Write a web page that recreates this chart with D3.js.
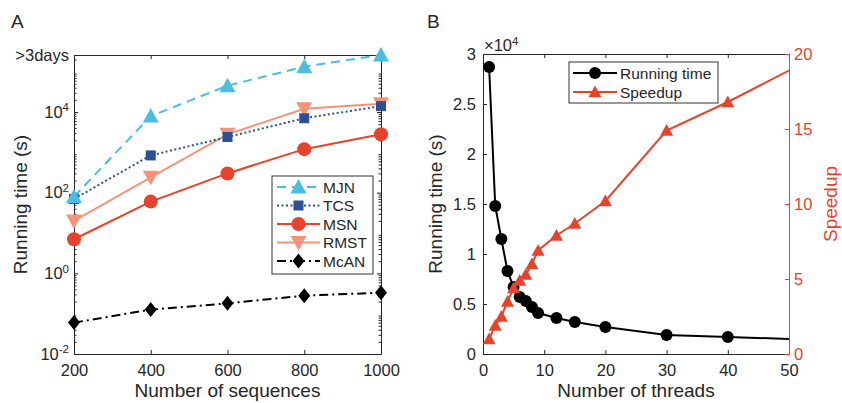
<!DOCTYPE html>
<html>
<head>
<meta charset="utf-8">
<script src="https://d3js.org/d3.v7.min.js"></script>
<style>
    body { margin: 0; background: #ffffff; }
    svg text { font-family: "Liberation Sans", Arial, sans-serif; fill: #262626; }
    .tick text { font-size: 16.5px; }
    .axis-label { font-size: 19px; }
    .legend-text { font-size: 15.5px; }
    .panel-letter { font-size: 19px; }
</style>
</head>
<body>
<script>
// ---- panel A data ----
const sequences = [200, 400, 600, 800, 1000];
const methodNames = ["MJN", "TCS", "MSN", "RMST", "McAN"];
const mjnTime = [80, 7900, 45000, 133000, 259200];
const tcsTime = [70, 840, 2400, 7000, 14000];
const msnTime = [7, 60, 300, 1200, 2800];
const rmstTime = [20, 240, 2800, 12000, 16000];
const mcanTime = [0.06, 0.126, 0.18, 0.28, 0.33];
const yTicksA = [1e-2, 1, 1e2, 1e4, 259200];

// ---- panel B data ----
const threads = [1, 2, 3, 4, 5, 6, 7, 8, 9, 12, 15, 20, 30, 40, 60];
const runTime = [28700, 14800, 11500, 8300, 6700, 5700, 5300, 4700, 4100, 3600, 3200, 2700, 1900, 1700, 1300];
const speedup = [1.0, 1.9, 2.5, 3.5, 4.4, 4.9, 5.3, 6.0, 6.9, 7.9, 8.7, 10.2, 14.9, 16.8, 21.0];

const W = 842, H = 403;
const AXIS_COLOR = "#262626";
const RED = "#e5432d";

const svg = d3.select("body").append("svg")
    .attr("width", W).attr("height", H);

const defs = svg.append("defs");

function marker(g, shape, x, y, size, color) {
    if (shape === "up" || shape === "down") {
        const h = size * 0.9, w = size / 2;
        const s = shape === "up" ? 1 : -1;
        g.append("path")
            .attr("d", `M${x},${y - s * h * 0.55}L${x + w},${y + s * h * 0.45}L${x - w},${y + s * h * 0.45}Z`)
            .attr("fill", color);
    } else if (shape === "square") {
        g.append("rect").attr("x", x - size / 2).attr("y", y - size / 2)
            .attr("width", size).attr("height", size).attr("fill", color);
    } else if (shape === "circle") {
        g.append("circle").attr("cx", x).attr("cy", y).attr("r", size / 2).attr("fill", color);
    } else if (shape === "diamond") {
        const r = size / 2;
        g.append("path").attr("d", `M${x},${y - r}L${x + r * 0.8},${y}L${x},${y + r}L${x - r * 0.8},${y}Z`)
            .attr("fill", color);
    }
}

function styleAxis(g, color) {
    g.select(".domain").attr("stroke", color || AXIS_COLOR).attr("stroke-width", 1);
    g.selectAll(".tick line").attr("stroke", color || AXIS_COLOR).attr("stroke-width", 1);
    g.selectAll(".tick text").style("fill", color || AXIS_COLOR)
        .attr("font-family", null).attr("font-size", null);
}

// ================= Panel A =================
const A = { left: 74, right: 381, top: 55, bottom: 354 };
const xA = d3.scaleLinear().domain([200, 1000]).range([A.left, A.right]);
const yA = d3.scaleLog().domain([1e-2, 259200]).range([A.bottom, A.top]);

const gA = svg.append("g");

// minor log ticks
const minorA = [];
for (let e = -2; e <= 5; e++) {
    for (let m = 2; m <= 9; m++) {
        const v = m * Math.pow(10, e);
        if (v < 259200) minorA.push(v);
    }
}
gA.append("g").attr("transform", `translate(${A.left},0)`)
    .call(d3.axisRight(yA).tickValues(minorA).tickSize(2.5).tickFormat(""))
    .call(g => { g.select(".domain").remove(); g.selectAll("line").attr("stroke", AXIS_COLOR); });
gA.append("g").attr("transform", `translate(${A.right},0)`)
    .call(d3.axisLeft(yA).tickValues(minorA).tickSize(2.5).tickFormat(""))
    .call(g => { g.select(".domain").remove(); g.selectAll("line").attr("stroke", AXIS_COLOR); });

// major axes
gA.append("g").attr("transform", `translate(0,${A.bottom})`)
    .call(d3.axisBottom(xA).tickValues(sequences).tickSizeInner(-4).tickSizeOuter(0).tickPadding(10)
        .tickFormat(d3.format("d")))
    .call(g => styleAxis(g));
gA.append("g").attr("transform", `translate(0,${A.top})`)
    .call(d3.axisTop(xA).tickValues(sequences).tickSizeInner(-4).tickSizeOuter(0).tickFormat(""))
    .call(g => styleAxis(g));
gA.append("g").attr("transform", `translate(${A.left},0)`)
    .call(d3.axisLeft(yA).tickValues(yTicksA).tickSizeInner(-4).tickSizeOuter(0).tickPadding(5).tickFormat(""))
    .call(g => styleAxis(g))
    .call(g => g.selectAll(".tick text").each(function(d) {
        const t = d3.select(this);
        if (d === 259200) {
            t.text(">3days");
        } else {
            const e = Math.round(Math.log10(d));
            t.append("tspan").text("10");
            t.append("tspan").attr("dy", "-0.55em").style("font-size", "11.5px").text(e);
        }
    }));
gA.append("g").attr("transform", `translate(${A.right},0)`)
    .call(d3.axisRight(yA).tickValues(yTicksA).tickSizeInner(-4).tickSizeOuter(0).tickFormat(""))
    .call(g => styleAxis(g));

const seriesA = [
    { name: "MJN", values: mjnTime, color: "#4cbde0", dash: "9,6", shape: "up", size: 16 },
    { name: "TCS", values: tcsTime, color: "#2f4f95", dash: "2,2.5", shape: "square", size: 10 },
    { name: "MSN", values: msnTime, color: "#e5432d", dash: null, shape: "circle", size: 14 },
    { name: "RMST", values: rmstTime, color: "#f4937a", dash: null, shape: "down", size: 16 },
    { name: "McAN", values: mcanTime, color: "#000000", dash: "9,4,2,4", shape: "diamond", size: 15 }
];
const drawOrderA = [4, 3, 2, 1, 0];
const lineA = d3.line().x((d, i) => xA(sequences[i])).y(d => yA(d));
drawOrderA.forEach(k => {
    const s = seriesA[k];
    gA.append("path").datum(s.values)
        .attr("d", lineA)
        .attr("fill", "none").attr("stroke", s.color).attr("stroke-width", 2)
        .attr("stroke-dasharray", s.dash);
    s.values.forEach((v, i) => marker(gA, s.shape, xA(sequences[i]), yA(v), s.size, s.color));
});

// legend A
const legA = gA.append("g");
legA.append("rect").attr("x", 272).attr("y", 176).attr("width", 101).attr("height", 98)
    .attr("fill", "#ffffff").attr("stroke", "#333333").attr("stroke-width", 1);
seriesA.forEach((s, i) => {
    const y = 187 + i * 18.5;
    legA.append("line").attr("x1", 277).attr("x2", 320).attr("y1", y).attr("y2", y)
        .attr("stroke", s.color).attr("stroke-width", 2).attr("stroke-dasharray", s.dash);
    marker(legA, s.shape, 298.5, y, s.size, s.color);
    legA.append("text").attr("class", "legend-text").attr("x", 323).attr("y", y)
        .attr("dy", "0.36em").text(methodNames[i]);
});

gA.append("text").attr("class", "axis-label").attr("text-anchor", "middle")
    .attr("x", (A.left + A.right) / 2).attr("y", 397).text("Number of sequences");
gA.append("text").attr("class", "axis-label").attr("text-anchor", "middle")
    .attr("transform", `translate(27,${(A.top + A.bottom) / 2}) rotate(-90)`).text("Running time (s)");
gA.append("text").attr("class", "panel-letter").attr("x", 11).attr("y", 28).text("A");

// ================= Panel B =================
const B = { left: 483, right: 789, top: 54, bottom: 354 };
const xB = d3.scaleLinear().domain([0, 50]).range([B.left, B.right]);
const yB = d3.scaleLinear().domain([0, 30000]).range([B.bottom, B.top]);
const yB2 = d3.scaleLinear().domain([0, 20]).range([B.bottom, B.top]);

const gB = svg.append("g");
defs.append("clipPath").attr("id", "clipB").append("rect")
    .attr("x", B.left).attr("y", B.top - 10).attr("width", B.right - B.left).attr("height", B.bottom - B.top + 20);

gB.append("g").attr("transform", `translate(0,${B.bottom})`)
    .call(d3.axisBottom(xB).tickValues([0, 10, 20, 30, 40, 50]).tickSizeInner(-4).tickSizeOuter(0).tickPadding(10))
    .call(g => styleAxis(g));
gB.append("g").attr("transform", `translate(0,${B.top})`)
    .call(d3.axisTop(xB).tickValues([0, 10, 20, 30, 40, 50]).tickSizeInner(-4).tickSizeOuter(0).tickFormat(""))
    .call(g => styleAxis(g));
gB.append("g").attr("transform", `translate(${B.left},0)`)
    .call(d3.axisLeft(yB).tickValues([0, 5000, 10000, 15000, 20000, 25000, 30000])
        .tickSizeInner(-4).tickSizeOuter(0).tickPadding(7).tickFormat(d => d3.format("")(d / 10000)))
    .call(g => styleAxis(g));
gB.append("g").attr("transform", `translate(${B.right},0)`)
    .call(d3.axisRight(yB2).tickValues([0, 5, 10, 15, 20]).tickSizeInner(-4).tickSizeOuter(0).tickPadding(5))
    .call(g => styleAxis(g, RED));

// exponent label
const expB = gB.append("text").attr("x", B.left + 1).attr("y", 51).style("font-size", "16.5px");
expB.append("tspan").text("\u00d710");
expB.append("tspan").attr("dy", "-0.55em").style("font-size", "11.5px").text("4");

const plotB = gB.append("g").attr("clip-path", "url(#clipB)");
plotB.append("path").datum(runTime)
    .attr("d", d3.line().x((d, i) => xB(threads[i])).y(d => yB(d)))
    .attr("fill", "none").attr("stroke", "#000000").attr("stroke-width", 2);
runTime.forEach((v, i) => { if (threads[i] <= 50) marker(plotB, "circle", xB(threads[i]), yB(v), 12, "#000000"); });
plotB.append("path").datum(speedup)
    .attr("d", d3.line().x((d, i) => xB(threads[i])).y(d => yB2(d)))
    .attr("fill", "none").attr("stroke", RED).attr("stroke-width", 2);
speedup.forEach((v, i) => { if (threads[i] <= 50) marker(plotB, "up", xB(threads[i]), yB2(v), 13, RED); });

// legend B
const legB = gB.append("g");
legB.append("rect").attr("x", 569).attr("y", 62).attr("width", 149).attr("height", 41)
    .attr("fill", "#ffffff").attr("stroke", "#333333").attr("stroke-width", 1);
[["Running time", "#000000", "circle", 12], ["Speedup", RED, "up", 13]].forEach((e, i) => {
    const y = 73 + i * 19;
    legB.append("line").attr("x1", 573).attr("x2", 617).attr("y1", y).attr("y2", y)
        .attr("stroke", e[1]).attr("stroke-width", 2);
    marker(legB, e[2], 595, y, e[3], e[1]);
    legB.append("text").attr("class", "legend-text").attr("x", 620).attr("y", y)
        .attr("dy", "0.36em").text(e[0]);
});

gB.append("text").attr("class", "axis-label").attr("text-anchor", "middle")
    .attr("x", (B.left + B.right) / 2).attr("y", 397).text("Number of threads");
gB.append("text").attr("class", "axis-label").attr("text-anchor", "middle")
    .attr("transform", `translate(442,${(B.top + B.bottom) / 2}) rotate(-90)`).text("Running time (s)");
gB.append("text").attr("class", "axis-label").attr("text-anchor", "middle").style("fill", RED)
    .attr("transform", `translate(837,${(B.top + B.bottom) / 2}) rotate(-90)`).text("Speedup");
gB.append("text").attr("class", "panel-letter").attr("x", 427).attr("y", 28).text("B");
</script>
</body>
</html>
